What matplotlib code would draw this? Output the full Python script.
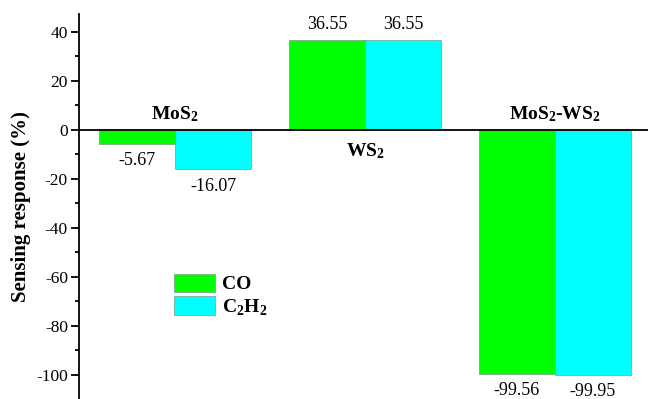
import numpy as np
import matplotlib.pyplot as plt
from matplotlib.ticker import MultipleLocator

plt.rcParams['font.family'] = ['Liberation Serif', 'DejaVu Serif']
plt.rcParams['mathtext.fontset'] = 'custom'
plt.rcParams['mathtext.rm'] = 'Liberation Serif'
plt.rcParams['mathtext.bf'] = 'Liberation Serif:bold'
plt.rcParams['axes.unicode_minus'] = False

materials = [r'$\mathbf{MoS_2}$', r'$\mathbf{WS_2}$', r'$\mathbf{MoS_2}$-$\mathbf{WS_2}$']
co = [-5.67, 36.55, -99.56]
c2h2 = [-16.07, 36.55, -99.95]
gases = ['CO', r'C$_\mathbf{2}$H$_\mathbf{2}$']
colors = ['#00ff00', '#00ffff']

x = np.arange(1, len(materials) + 1)
w = 0.4

fig = plt.figure(figsize=(6.48, 3.99), dpi=100)
ax = fig.add_axes([79 / 648, 0, 569 / 648, 385 / 399])

for k, (vals, c, g) in enumerate(zip([co, c2h2], colors, gases)):
    xs = x + (k - 0.5) * w
    ax.bar(xs, vals, width=w, color=c, edgecolor='#7a9a8a', linewidth=0.5, label=g)
    for xi, v in zip(xs, vals):
        if v >= 0:
            ax.text(xi, v + 3, f'{v:.2f}', ha='center', va='bottom', fontsize=13)
        else:
            ax.text(xi, v - 3.5, f'{v:.2f}', ha='center', va='top', fontsize=13)

ax.axhline(0, color='black', linewidth=1.3)

# material names sit above or below the zero line
label_y = [2.5, -4.5, 2.5]
for xi, name, ly in zip(x, materials, label_y):
    ax.text(xi, ly, name, ha='center', va='bottom' if ly > 0 else 'top',
            fontsize=14, fontweight='bold')

ax.set_xlim(0.495, 3.49)
ax.set_ylim(-109.8, 47.3)
ax.set_xticks([])
ax.yaxis.set_major_locator(MultipleLocator(20))
ax.yaxis.set_minor_locator(MultipleLocator(10))
ax.tick_params(axis='y', which='major', direction='out', length=6, width=1.3,
               labelsize=12.5, pad=2)
ax.tick_params(axis='y', which='minor', direction='out', length=3, width=1.3)
for s in ['top', 'right', 'bottom']:
    ax.spines[s].set_visible(False)
ax.spines['left'].set_linewidth(1.3)

ax.set_ylabel('Sensing response (%)', fontsize=15, fontweight='bold', labelpad=4)

ax.legend(loc='upper left', bbox_to_anchor=(0.137, 0.371), frameon=False,
          prop={'weight': 'bold', 'size': 14},
          handlelength=2.1, handleheight=1.08, handletextpad=0.35, labelspacing=0.15)

fig.savefig('out.png', dpi=100)
